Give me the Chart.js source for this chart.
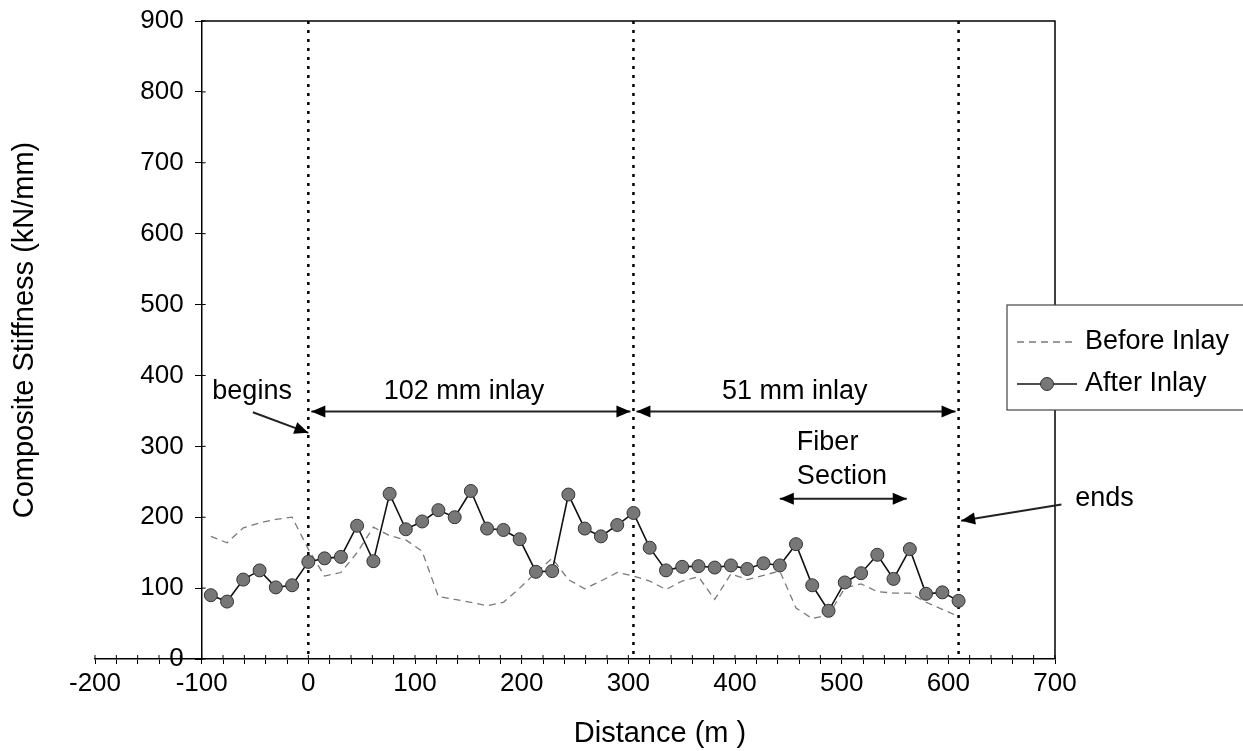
<!DOCTYPE html>
<html>
<head>
<meta charset="utf-8">
<script src="https://cdn.jsdelivr.net/npm/chart.js@4.4.0/dist/chart.umd.min.js"></script>
<style>
  html, body { margin: 0; padding: 0; background: #fff; }
</style>
</head>
<body>
<canvas id="stiffChart" width="1243" height="751"></canvas>
<script>
// distance along the section (m)
const distances = [
  -91.4, -76.2, -61.0, -45.7, -30.5, -15.2,
  0, 15.2, 30.5, 45.7, 61.0, 76.2, 91.4, 106.7, 121.9, 137.2, 152.4,
  167.6, 182.9, 198.1, 213.4, 228.6, 243.8, 259.1, 274.3, 289.6, 304.8,
  320.0, 335.3, 350.5, 365.8, 381.0, 396.2, 411.5, 426.7, 442.0, 457.2,
  472.4, 487.7, 502.9, 518.2, 533.4, 548.6, 563.9, 579.1, 594.4, 609.6
];
const beforeInlay = [
  173, 164, 185, 192, 197, 200,
  155, 117, 122, 150, 186, 174, 168, 152, 88, 84, 80,
  75, 80, 100, 122, 142, 112, 99, 110, 122, 117,
  110, 98, 110, 116, 84, 120, 112, 118, 124, 72,
  57, 62, 100, 106, 95, 93, 93, 80, 70, 60
];
const afterInlay = [
  90, 81, 112, 125, 101, 104,
  137, 142, 144, 188, 138, 233, 183, 194, 210, 200, 237,
  184, 182, 169, 123, 124, 232, 184, 173, 189, 206,
  157, 125, 130, 131, 129, 132, 127, 135, 132, 162,
  104, 68, 108, 121, 147, 113, 155, 92, 94, 82
];
const xTickLabels = [-200, -100, 0, 100, 200, 300, 400, 500, 600, 700];
const yTickLabels = [0, 100, 200, 300, 400, 500, 600, 700, 800, 900];

// annotations (data units)
const sectionLines = [0, 304.8, 609.6];
const inlayLabels = [
  { text: '102 mm inlay', x: 146, y: 377, from: 0, to: 304.8, arrowY: 349 },
  { text: '51 mm inlay', x: 456, y: 377, from: 304.8, to: 609.6, arrowY: 349 }
];
const fiberLabel = { lines: ['Fiber', 'Section'], x: 458, y: [305, 257], from: 442, to: 561, arrowY: 226 };
const beginsLabel = { text: 'begins', x: -90, y: 377, from: [-52, 348], to: [0, 319] };
const endsLabel = { text: 'ends', x: 719, y: 226, from: [706, 218], to: [612, 195] };

const FONT = '"Liberation Sans", Arial, sans-serif';
Chart.defaults.font.family = FONT;
Chart.defaults.color = '#000';

function arrowHead(ctx, x1, y1, x2, y2) {
  const a = Math.atan2(y2 - y1, x2 - x1);
  const len = 14, w = 6;
  ctx.beginPath();
  ctx.moveTo(x2, y2);
  ctx.lineTo(x2 - len * Math.cos(a) + w * Math.sin(a), y2 - len * Math.sin(a) - w * Math.cos(a));
  ctx.lineTo(x2 - len * Math.cos(a) - w * Math.sin(a), y2 - len * Math.sin(a) + w * Math.cos(a));
  ctx.closePath();
  ctx.fill();
}

function arrow(ctx, x1, y1, x2, y2, both) {
  ctx.beginPath();
  ctx.moveTo(x1, y1);
  ctx.lineTo(x2, y2);
  ctx.stroke();
  arrowHead(ctx, x1, y1, x2, y2);
  if (both) arrowHead(ctx, x2, y2, x1, y1);
}

const overlay = {
  id: 'overlay',
  beforeDatasetsDraw(chart) {
    const { ctx, scales: { x, y } } = chart;
    const px = v => x.getPixelForValue(v);
    const py = v => y.getPixelForValue(v);
    ctx.save();
    ctx.strokeStyle = '#000';
    ctx.lineWidth = 1.5;
    // frame top and right
    ctx.beginPath();
    ctx.moveTo(px(-100), py(900));
    ctx.lineTo(px(700), py(900));
    ctx.lineTo(px(700), py(0));
    ctx.stroke();
    // inner half of tick marks
    ctx.lineWidth = 1;
    ctx.beginPath();
    x.ticks.forEach(t => { ctx.moveTo(px(t.value), py(0)); ctx.lineTo(px(t.value), py(0) - 4); });
    y.ticks.forEach(t => { ctx.moveTo(px(-100), py(t.value)); ctx.lineTo(px(-100) + 4, py(t.value)); });
    ctx.stroke();
    // dotted section boundaries
    ctx.lineWidth = 2.5;
    ctx.setLineDash([3, 6]);
    ctx.beginPath();
    sectionLines.forEach(v => { ctx.moveTo(px(v), py(900)); ctx.lineTo(px(v), py(0)); });
    ctx.stroke();
    ctx.restore();
  },
  afterDraw(chart) {
    const { ctx, scales: { x, y } } = chart;
    const px = v => x.getPixelForValue(v);
    const py = v => y.getPixelForValue(v);
    ctx.save();
    ctx.fillStyle = '#000';
    ctx.strokeStyle = '#222';
    ctx.lineWidth = 2;
    ctx.textBaseline = 'middle';

    // y tick labels (axis sits at x = -100, labels to its left)
    ctx.font = '26px ' + FONT;
    ctx.textAlign = 'right';
    yTickLabels.forEach(v => ctx.fillText(String(v), px(-100) - 18, py(v)));

    ctx.font = '27px ' + FONT;
    inlayLabels.forEach(l => {
      ctx.textAlign = 'center';
      ctx.fillText(l.text, px(l.x), py(l.y));
      arrow(ctx, px(l.from) + 3, py(l.arrowY), px(l.to) - 3, py(l.arrowY), true);
    });

    ctx.textAlign = 'left';
    fiberLabel.lines.forEach((t, i) => ctx.fillText(t, px(fiberLabel.x), py(fiberLabel.y[i])));
    arrow(ctx, px(fiberLabel.from), py(fiberLabel.arrowY), px(fiberLabel.to), py(fiberLabel.arrowY), true);

    ctx.fillText(beginsLabel.text, px(beginsLabel.x), py(beginsLabel.y));
    arrow(ctx, px(beginsLabel.from[0]), py(beginsLabel.from[1]), px(beginsLabel.to[0]), py(beginsLabel.to[1]), false);

    ctx.fillText(endsLabel.text, px(endsLabel.x), py(endsLabel.y));
    arrow(ctx, px(endsLabel.from[0]), py(endsLabel.from[1]), px(endsLabel.to[0]), py(endsLabel.to[1]), false);

    // axis titles
    ctx.font = '29px ' + FONT;
    ctx.textAlign = 'center';
    ctx.fillText('Distance (m )', 660, 734);
    ctx.save();
    ctx.translate(25, 330);
    ctx.rotate(-Math.PI / 2);
    ctx.fillText('Composite Stiffness (kN/mm)', 0, 0);
    ctx.restore();

    // legend
    const lx = 1007, ly = 305, lw = 240, lh = 105;
    ctx.fillStyle = '#fff';
    ctx.fillRect(lx, ly, lw, lh);
    ctx.strokeStyle = '#444';
    ctx.lineWidth = 1.2;
    ctx.strokeRect(lx, ly, lw, lh);
    const ds = chart.data.datasets;
    const rows = [ly + 37, ly + 79];
    ds.forEach((d, i) => {
      const yy = rows[i];
      ctx.strokeStyle = d.borderColor;
      ctx.lineWidth = d.borderWidth;
      ctx.setLineDash(d.borderDash || []);
      ctx.beginPath();
      ctx.moveTo(lx + 10, yy);
      ctx.lineTo(lx + 70, yy);
      ctx.stroke();
      ctx.setLineDash([]);
      if (d.pointRadius > 0) {
        ctx.beginPath();
        ctx.arc(lx + 40, yy, d.pointRadius, 0, Math.PI * 2);
        ctx.fillStyle = d.pointBackgroundColor;
        ctx.fill();
        ctx.strokeStyle = d.pointBorderColor;
        ctx.lineWidth = 1;
        ctx.stroke();
      }
      ctx.fillStyle = '#000';
      ctx.font = '27px ' + FONT;
      ctx.textAlign = 'left';
      ctx.fillText(d.label, lx + 78, yy);
    });
    ctx.restore();
  }
};

new Chart(document.getElementById('stiffChart'), {
  type: 'line',
  data: {
    datasets: [
      {
        label: 'Before Inlay',
        data: distances.map((d, i) => ({ x: d, y: beforeInlay[i] })),
        borderColor: '#7a7a7a',
        borderWidth: 1.3,
        borderDash: [7, 5],
        pointRadius: 0,
        tension: 0,
        order: 2
      },
      {
        label: 'After Inlay',
        data: distances.map((d, i) => ({ x: d, y: afterInlay[i] })),
        borderColor: '#111',
        borderWidth: 1.6,
        pointRadius: 6.5,
        pointBackgroundColor: '#777',
        pointBorderColor: '#333',
        pointBorderWidth: 1,
        tension: 0,
        order: 1
      }
    ]
  },
  options: {
    responsive: false,
    animation: false,
    devicePixelRatio: 1,
    layout: { padding: { left: 95, right: 188, top: 21, bottom: 0 } },
    plugins: {
      legend: { display: false },
      tooltip: { enabled: false }
    },
    scales: {
      x: {
        type: 'linear',
        min: -200,
        max: 700,
        afterFit: s => { s.height = 92; },
        border: { display: true, color: '#000', width: 1.5 },
        grid: { display: true, drawOnChartArea: false, tickLength: 5, color: '#000' },
        ticks: {
          stepSize: 20,
          autoSkip: false,
          maxRotation: 0,
          padding: 4,
          font: { size: 26 },
          callback: v => xTickLabels.includes(Math.round(v)) ? String(Math.round(v)) : ''
        }
      },
      y: {
        type: 'linear',
        position: { x: -100 },
        min: 0,
        max: 900,
        border: { display: true, color: '#000', width: 1.5 },
        grid: { display: true, drawOnChartArea: false, tickLength: 6, color: '#000' },
        ticks: {
          stepSize: 100,
          display: false
        }
      }
    }
  },
  plugins: [overlay]
});
</script>
</body>
</html>
